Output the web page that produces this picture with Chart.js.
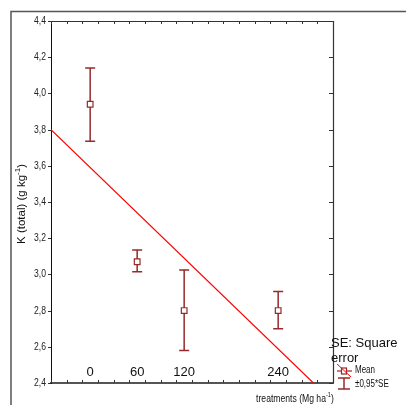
<!DOCTYPE html>
<html><head><meta charset="utf-8">
<script src="https://cdn.jsdelivr.net/npm/chart.js@4/dist/chart.umd.min.js"></script>
<style>html,body{margin:0;padding:0;background:#fff;}canvas{display:block;}</style>
</head><body>
<canvas id="c" width="406" height="405"></canvas>
<script>
const categories = ['0', '60', '120', '240'];
const treatments = [0, 60, 120, 240];
const means = [3.94, 3.07, 2.80, 2.80];
const upper = [4.14, 3.135, 3.025, 2.905];
const lower = [3.735, 3.015, 2.58, 2.70];
const regX = [-50, 285];
const regY = [3.80, 2.40];
const yTitle = 'K (total) (g kg';
const xTitle = 'treatments (Mg ha';
const legendTitle = ['SE: Square', 'error'];
const legendItems = ['Mean', '±0,95*SE'];

const SANS = '"Liberation Sans", Arial, sans-serif';
const BAR = '#962a2a';

// draw horizontally condensed text; returns drawn width
function narrowText(ctx, text, x, y, size, sx, align) {
  ctx.save();
  ctx.font = size + 'px ' + SANS;
  const w = ctx.measureText(text).width * sx;
  let x0 = x;
  if (align === 'right') x0 = x - w;
  else if (align === 'center') x0 = x - w / 2;
  ctx.translate(x0, y);
  ctx.scale(sx, 1);
  ctx.textAlign = 'left';
  ctx.fillText(text, 0, 0);
  ctx.restore();
  return w;
}
function textWidth(ctx, text, size, sx) {
  ctx.save(); ctx.font = size + 'px ' + SANS;
  const w = ctx.measureText(text).width * sx; ctx.restore(); return w;
}

const decor = {
  id: 'decor',
  beforeDatasetsDraw(chart) {
    const ctx = chart.ctx, a = chart.chartArea;
    const xs = chart.scales.x, ys = chart.scales.y;
    ctx.save();
    // outer frame (top + left)
    ctx.strokeStyle = '#555'; ctx.lineWidth = 1.5;
    ctx.beginPath(); ctx.moveTo(11, 405); ctx.lineTo(11, 11.5); ctx.lineTo(406, 11.5); ctx.stroke();
    // top and right axes
    ctx.strokeStyle = '#333'; ctx.lineWidth = 1.2;
    ctx.beginPath(); ctx.moveTo(a.left, a.top + 0.5); ctx.lineTo(a.right + 0.5, a.top + 0.5); ctx.lineTo(a.right + 0.5, a.bottom); ctx.stroke();
    // tick marks
    ctx.lineWidth = 1; ctx.strokeStyle = '#333';
    ctx.beginPath();
    xs.ticks.forEach(t => {
      const px = Math.round(xs.getPixelForValue(t.value)) + 0.5;
      ctx.moveTo(px, a.top); ctx.lineTo(px, a.top + 3);
      ctx.moveTo(px, a.bottom); ctx.lineTo(px, a.bottom - 3);
    });
    ys.ticks.forEach(t => {
      const py = Math.round(ys.getPixelForValue(t.value)) + 0.5;
      ctx.moveTo(a.right, py); ctx.lineTo(a.right - 4, py);
      ctx.moveTo(a.left, py); ctx.lineTo(a.left - 3, py);
    });
    ctx.stroke();
    // y tick labels (condensed)
    ctx.fillStyle = '#222'; ctx.textBaseline = 'middle';
    ys.ticks.forEach(t => {
      narrowText(ctx, t.value.toFixed(1).replace('.', ','), a.left - 5, ys.getPixelForValue(t.value), 11, 0.78, 'right');
    });
    // error bars
    ctx.strokeStyle = BAR; ctx.lineWidth = 1.5;
    treatments.forEach((t, i) => {
      const px = xs.getPixelForValue(t);
      const pu = ys.getPixelForValue(upper[i]);
      const pl = ys.getPixelForValue(lower[i]);
      ctx.beginPath();
      ctx.moveTo(px, pu); ctx.lineTo(px, pl);
      ctx.moveTo(px - 5, pu); ctx.lineTo(px + 5, pu);
      ctx.moveTo(px - 5, pl); ctx.lineTo(px + 5, pl);
      ctx.stroke();
    });
    // category labels
    ctx.fillStyle = '#111';
    ctx.font = '13px ' + SANS;
    ctx.textAlign = 'center'; ctx.textBaseline = 'middle';
    categories.forEach((c, i) => {
      ctx.fillText(c, xs.getPixelForValue(treatments[i]), ys.getPixelForValue(2.46));
    });
    ctx.restore();
  },
  afterDraw(chart) {
    const ctx = chart.ctx;
    ctx.save();
    ctx.fillStyle = '#111';
    // y title rotated
    ctx.save();
    ctx.translate(22, 204);
    ctx.rotate(-Math.PI / 2);
    ctx.textBaseline = 'middle';
    const ySize = 11.5, ySup = 8;
    const w1 = textWidth(ctx, yTitle, ySize, 1);
    const ws = textWidth(ctx, '-1', ySup, 1);
    const wp = textWidth(ctx, ')', ySize, 1);
    let x0 = -(w1 + ws + wp) / 2;
    narrowText(ctx, yTitle, x0, 0, ySize, 1, 'left');
    narrowText(ctx, '-1', x0 + w1, -4, ySup, 1, 'left');
    narrowText(ctx, ')', x0 + w1 + ws, 0, ySize, 1, 'left');
    ctx.restore();
    // x title
    ctx.textBaseline = 'alphabetic';
    const sx = 0.82;
    const xw = textWidth(ctx, xTitle, 10.5, sx);
    const xs2 = textWidth(ctx, '-1', 7, sx);
    const xp = textWidth(ctx, ')', 10.5, sx);
    let xx = 295 - (xw + xs2 + xp) / 2;
    narrowText(ctx, xTitle, xx, 402, 10.5, sx, 'left');
    narrowText(ctx, '-1', xx + xw, 397, 7, sx, 'left');
    narrowText(ctx, ')', xx + xw + xs2, 402, 10.5, sx, 'left');
    // legend title
    ctx.font = '13px ' + SANS;
    ctx.textAlign = 'left';
    ctx.fillText(legendTitle[0], 331, 347);
    ctx.fillText(legendTitle[1], 331, 362);
    // legend items
    ctx.strokeStyle = BAR; ctx.lineWidth = 1.2;
    ctx.beginPath(); ctx.moveTo(337, 371); ctx.lineTo(352, 371); ctx.stroke();
    ctx.fillStyle = '#fff';
    ctx.fillRect(341.5, 368, 5, 6);
    ctx.strokeRect(341.5, 368, 5, 6);
    ctx.strokeStyle = '#ff0000'; ctx.lineWidth = 1;
    ctx.beginPath(); ctx.moveTo(337, 364); ctx.lineTo(351, 377); ctx.stroke();
    ctx.strokeStyle = BAR; ctx.lineWidth = 1.5;
    ctx.beginPath();
    ctx.moveTo(344, 378); ctx.lineTo(344, 389);
    ctx.moveTo(338, 378); ctx.lineTo(350, 378);
    ctx.moveTo(338, 389); ctx.lineTo(350, 389);
    ctx.stroke();
    ctx.fillStyle = '#111';
    ctx.textBaseline = 'middle';
    narrowText(ctx, legendItems[0], 355, 370, 10, 0.8, 'left');
    narrowText(ctx, legendItems[1], 355, 384, 10, 0.8, 'left');
    ctx.restore();
  }
};

new Chart(document.getElementById('c'), {
  type: 'line',
  data: {
    datasets: [
      {
        label: 'Mean',
        data: treatments.map((t, i) => ({ x: t, y: means[i] })),
        showLine: false,
        pointStyle: 'rect',
        pointRadius: 4,
        pointBackgroundColor: '#fff',
        pointBorderColor: BAR,
        pointBorderWidth: 1.2,
        order: 0
      },
      {
        label: 'fit',
        data: regX.map((x, i) => ({ x: x, y: regY[i] })),
        borderColor: '#ff0000',
        borderWidth: 1.2,
        pointRadius: 0,
        fill: false,
        clip: 0,
        order: 1
      }
    ]
  },
  plugins: [decor],
  options: {
    responsive: false,
    animation: false,
    events: [],
    layout: { padding: { left: 0, top: 21, right: 73, bottom: 22 } },
    plugins: { legend: { display: false }, tooltip: { enabled: false } },
    scales: {
      x: {
        type: 'linear', min: -50, max: 310,
        afterBuildTicks: s => { const arr = []; for (let v = -50; v <= 310; v += 20) arr.push({ value: v }); s.ticks = arr; },
        afterFit: s => { s.height = 0; },
        ticks: { display: false },
        grid: { display: false, drawTicks: false },
        border: { display: true, color: '#555', width: 2 }
      },
      y: {
        min: 2.4, max: 4.4,
        afterFit: s => { s.width = 51; },
        ticks: { stepSize: 0.2, display: false },
        grid: { display: false, drawTicks: false },
        border: { display: true, color: '#111', width: 1 }
      }
    }
  }
});
</script>
</body></html>
